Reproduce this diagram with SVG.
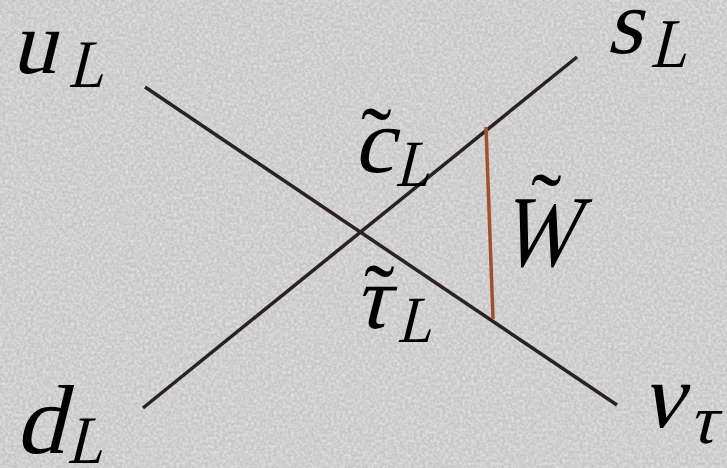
<svg xmlns="http://www.w3.org/2000/svg" width="727" height="468" viewBox="0 0 727 468">
<defs>
<filter id="tex" x="0" y="0" width="100%" height="100%">
<feTurbulence type="fractalNoise" baseFrequency="0.35" numOctaves="2" seed="3" result="n"/>
<feColorMatrix in="n" type="matrix" values="0 0 0 0 1  0 0 0 0 1  0 0 0 0 1  0 0 0 -1.6 1.1" result="w"/>
<feComposite in="w" in2="SourceGraphic" operator="in"/>
</filter>
<style>
.ln{stroke:#2b2024;stroke-width:3.5;stroke-linecap:butt}
</style>
</defs>
<rect width="727" height="468" fill="#c6c6c6"/>
<rect width="727" height="468" fill="#d2d2d2" filter="url(#tex)" opacity="0.55"/>
<g id="connectors">
<line class="ln" x1="145" y1="87" x2="617" y2="405"/>
<line class="ln" x1="143" y1="408" x2="577" y2="57"/>
<line x1="486" y1="127" x2="493" y2="319" stroke="#a0532b" stroke-width="3.5"/>
</g>
<g font-family="Liberation Serif" fill="#000">
<g id="uL">
<text font-size="90" transform="translate(11 73) skewX(-14)">u</text>
<text font-size="68" transform="translate(68 87) skewX(-14) scale(0.85 1)">L</text>
</g>
<g id="sL">
<text font-size="92" transform="translate(606 53) skewX(-14)">s</text>
<text font-size="70" transform="translate(650 67) skewX(-14) scale(0.85 1)">L</text>
</g>
<g id="dL">
<text font-size="98" transform="translate(15 453) skewX(-14)">d</text>
<text font-size="68" transform="translate(67 463) skewX(-14) scale(0.85 1)">L</text>
</g>
<g id="nutau">
<text font-size="92" transform="translate(641 427) skewX(-14)">ν</text>
<text font-size="70" transform="translate(688 443) skewX(-14)">τ</text>
</g>
<g id="cL">
<text font-size="92" x="361" y="170">˜</text>
<text font-size="92" transform="translate(353 172) skewX(-14)">c</text>
<text font-size="66" transform="translate(395 186) skewX(-14) scale(0.85 1)">L</text>
</g>
<g id="W">
<text font-size="92" x="531" y="236">˜</text>
<text font-size="102" transform="translate(499 266) skewX(-14) scale(0.8 1)">W</text>
</g>
<g id="tauL">
<text font-size="92" x="364" y="327">˜</text>
<text font-size="90" transform="translate(353 328) skewX(-14)">τ</text>
<text font-size="66" transform="translate(397 342) skewX(-14) scale(0.85 1)">L</text>
</g>
</g>
</svg>
